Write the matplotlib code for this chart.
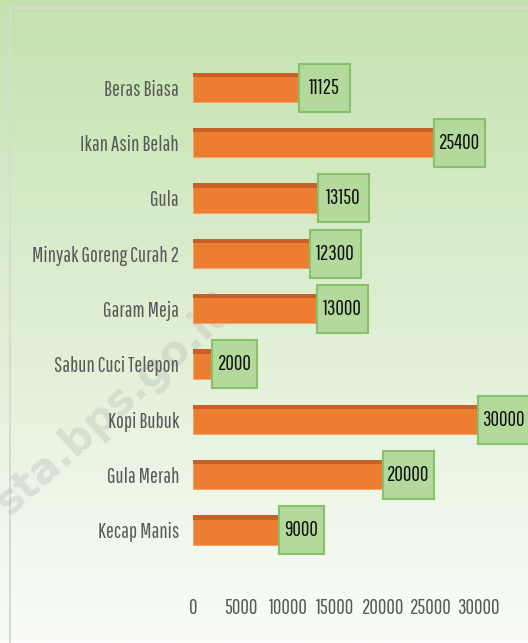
import matplotlib

matplotlib.use("Agg")
import matplotlib.pyplot as plt  # noqa: E402
import numpy as np  # noqa: E402
from matplotlib.patches import Rectangle  # noqa: E402

plt.rcParams["font.family"] = ["Pathway Gothic One", "Roboto Condensed", "DejaVu Sans"]

items = ["Beras Biasa", "Ikan Asin Belah", "Gula", "Minyak Goreng Curah 2",
         "Garam Meja", "Sabun Cuci Telepon", "Kopi Bubuk", "Gula Merah", "Kecap Manis"]
prices = [11125, 25400, 13150, 12300, 13000, 2000, 30000, 20000, 9000]
xticks = [0, 5000, 10000, 15000, 20000, 25000, 30000]

W, H = 528, 643
X0, X1 = 193, 478          # pixel span of 0..30000
fig = plt.figure(figsize=(W / 100, H / 100), dpi=100)

# green-to-white background gradient
bg = fig.add_axes([0, 0, 1, 1], zorder=0)
top = np.array([196, 226, 174]) / 255
bot = np.array([250, 252, 249]) / 255
t = np.linspace(0, 1, 256)[:, None]
grad = top * (1 - t) + bot * t
bg.imshow(grad[:, None, :], aspect="auto", extent=[0, 1, 0, 1])
bg.add_patch(Rectangle((10 / W, -0.01), 1, 1 - 8 / H + 0.01, transform=bg.transAxes,
                       fill=False, edgecolor="#d6dcd2", linewidth=1.5))
bg.text(0.22, 0.37, "sta.bps.go.id", rotation=42, fontsize=30, color="#b0b0b0",
        alpha=0.3, ha="center", va="center", family=["DejaVu Sans"], fontweight="bold")
bg.set_axis_off()

ax = fig.add_axes([X0 / W, 1 - 558 / H, (X1 - X0) / W, (558 - 60) / H], zorder=1)
ax.patch.set_alpha(0)
ax.set_xlim(0, 30000)
ax.set_ylim(len(items) - 0.5, -0.5)
per_px = 30000 / (X1 - X0)

y = np.arange(len(items))
ax.barh(y, prices, height=0.52, color="#ed7d31", edgecolor="#f2a06a", linewidth=0.6)
# darker top face for the 3D look
ax.barh(y - 0.23, prices, height=0.08, color="#c4622a", linewidth=0)

for yi, v in zip(y, prices):
    label = str(v)
    bw = (51 if len(label) >= 5 else 45) * per_px
    ax.add_patch(Rectangle((v, yi - 0.435), bw, 0.87, facecolor="#b3d99c",
                           edgecolor="#88c16c", linewidth=1.5, clip_on=False, zorder=3))
    ax.text(v + bw / 2, yi, label, ha="center", va="center", fontsize=15,
            color="#111111", zorder=4)

ax.set_yticks(y, items)
ax.set_xticks(xticks, [str(v) for v in xticks])
ax.tick_params(axis="y", length=0, pad=10, labelsize=15, labelcolor="#595959")
ax.tick_params(axis="x", length=0, pad=29, labelsize=15, labelcolor="#595959")
for s in ax.spines.values():
    s.set_visible(False)

fig.savefig("out.png", dpi=100)
